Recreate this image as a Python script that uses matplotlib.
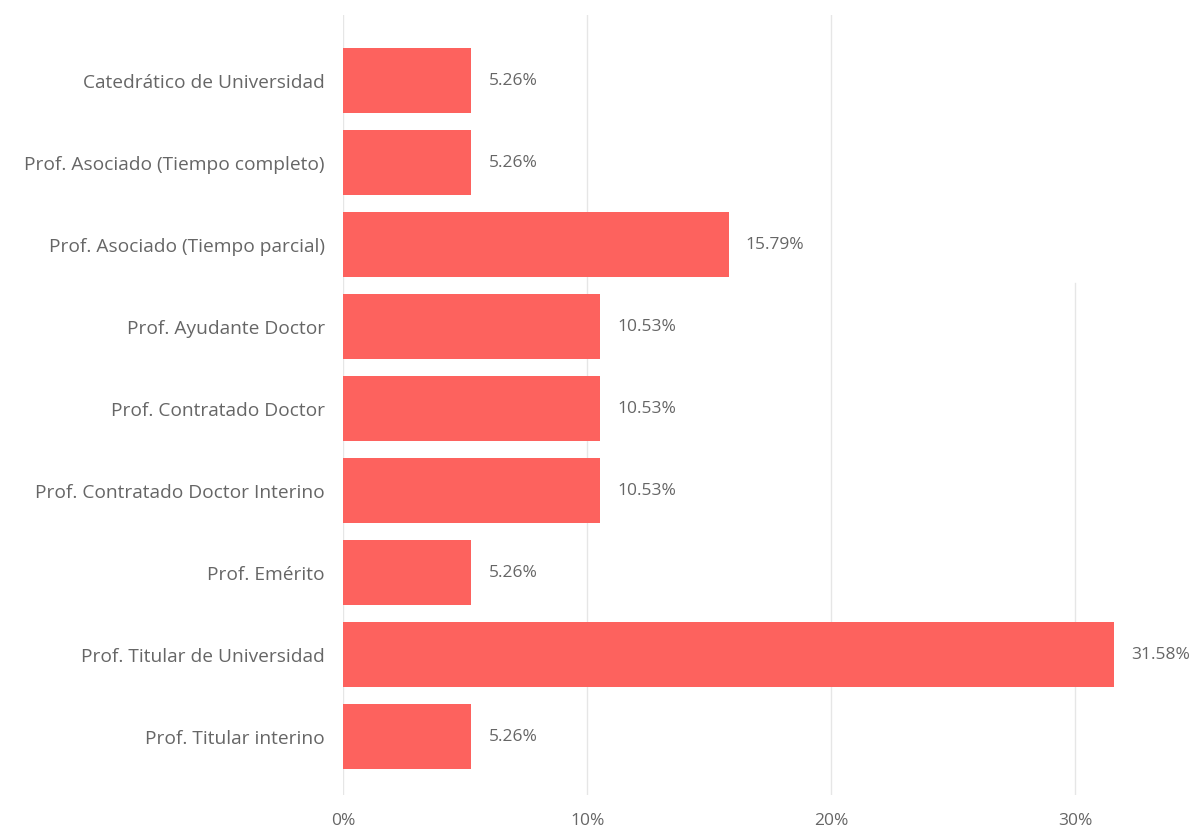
import matplotlib
matplotlib.use("Agg")
import matplotlib.pyplot as plt

categories = [
    "Catedrático de Universidad",
    "Prof. Asociado (Tiempo completo)",
    "Prof. Asociado (Tiempo parcial)",
    "Prof. Ayudante Doctor",
    "Prof. Contratado Doctor",
    "Prof. Contratado Doctor Interino",
    "Prof. Emérito",
    "Prof. Titular de Universidad",
    "Prof. Titular interino",
]
values = [5.26, 5.26, 15.79, 10.53, 10.53, 10.53, 5.26, 31.58, 5.26]
xticks = [0, 10, 20, 30]
xticklabels = ["0%", "10%", "20%", "30%"]

plt.rcParams['font.family'] = ['Open Sans', 'DejaVu Sans']

fig = plt.figure(figsize=(12, 8.31), dpi=100)
W, H = 1200, 831
left, right, top, bottom = 343, 1200, 15, 795
ax = fig.add_axes([left / W, 1 - bottom / H, (right - left) / W, (bottom - top) / H])

y = list(range(len(categories)))
ax.barh(y, values, height=0.79, color="#FD625E", zorder=3)
for yi, v in zip(y, values):
    ax.text(v + 0.7, yi, f"{v:.2f}%", va="center", ha="left", fontsize=12.5, color="#666666")

ax.set_xlim(0, 35.1)
ax.set_ylim(8.71, -0.8)
ax.set_yticks(y)
ax.set_yticklabels(categories, fontsize=13.8, color="#666666")
ax.set_xticks(xticks)
ax.set_xticklabels(xticklabels, fontsize=12.5, color="#666666")
ax.tick_params(axis="both", length=0)
ax.tick_params(axis="y", pad=13)
ax.tick_params(axis="x", pad=13)
for s in ax.spines.values():
    s.set_visible(False)
gridtops = [1.0, 1.0, 1.0, (795 - 283) / 780]
for xt, gt in zip(xticks, gridtops):
    ax.axvline(xt, ymin=0, ymax=gt, color="#E6E6E6", lw=1, zorder=0)

fig.savefig("out.png", dpi=100, facecolor="white")
